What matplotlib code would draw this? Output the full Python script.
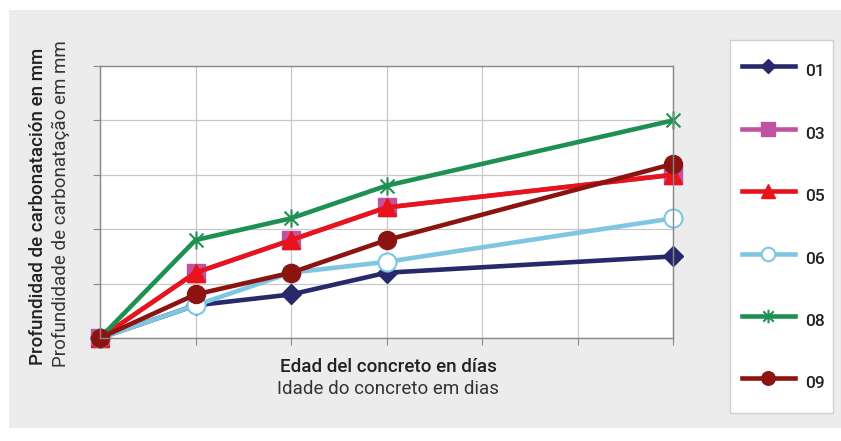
import matplotlib.pyplot as plt
from matplotlib.path import Path
from matplotlib.patches import Rectangle

# edades (posiciones en el eje x) y profundidad de carbonatación por serie
edades = [0, 1, 2, 3, 6]
s01 = [0, 0.6, 0.8, 1.2, 1.5]
s03 = [0, 1.2, 1.8, 2.4, 3.0]
s05 = [0, 1.2, 1.8, 2.4, 3.0]
s06 = [0, 0.6, 1.2, 1.4, 2.2]
s08 = [0, 1.8, 2.2, 2.8, 4.0]
s09 = [0, 0.8, 1.2, 1.8, 3.2]
nombres = ['01', '03', '05', '06', '08', '09']

# marcador tipo asterisco (x con línea vertical)
estrella = Path([(-1, -1), (1, 1), (-1, 1), (1, -1), (0, -1.3), (0, 1.3)],
                [Path.MOVETO, Path.LINETO, Path.MOVETO, Path.LINETO,
                 Path.MOVETO, Path.LINETO])

estilos = [
    dict(color='#27296b', marker='D', ms=10, mfc='#27296b', mec='#27296b'),
    dict(color='#c052a0', marker='s', ms=12.5, mfc='#c052a0', mec='#c052a0'),
    dict(color='#e8131b', marker='^', ms=12.5, mfc='#e8131b', mec='#e8131b'),
    dict(color='#7fc6e2', marker='o', ms=13, mfc='white', mec='#7fc6e2', mew=1.5),
    dict(color='#1e9152', marker=estrella, ms=13, mfc='none', mec='#1e9152', mew=1.5),
    dict(color='#8c1410', marker='o', ms=13, mfc='#8c1410', mec='#8c1410'),
]

fig = plt.figure(figsize=(8.41, 4.41), dpi=100)
fig.patch.set_facecolor('white')
# fondo gris y recuadro blanco de la leyenda
fig.patches.append(Rectangle((9 / 841, 13 / 441), 832 / 841, 418 / 441,
                             transform=fig.transFigure, facecolor='#ececec',
                             edgecolor='none', zorder=-5))
fig.patches.append(Rectangle((730 / 841, 1 - 413 / 441), 103 / 841, 373 / 441,
                             transform=fig.transFigure, facecolor='white',
                             edgecolor='#d0d0d0', lw=1.0, zorder=-4))

ax = fig.add_axes([100 / 841, 103 / 441, 573 / 841, 272 / 441])
ax.set_zorder(2)
ax.set_facecolor('white')

for serie, nombre, st in zip([s01, s03, s05, s06, s08, s09], nombres, estilos):
    ax.plot(edades, serie, lw=3.3, label=nombre, clip_on=False, **st)

ax.set_xlim(0, 6)
ax.set_ylim(0, 5)
ax.set_xticks(range(7))
ax.set_yticks(range(6))
ax.set_xticklabels([])
ax.set_yticklabels([])
ax.tick_params(length=5, width=0.8, color='#888888')
ax.grid(True, color='#c8c8c8', lw=0.9)
ax.set_axisbelow(True)
for lado in ax.spines.values():
    lado.set_color('#888888')
    lado.set_linewidth(1.0)

fuente = ['Roboto', 'DejaVu Sans']
fig.text(388 / 841, 1 - 367 / 441, 'Edad del concreto en días', ha='center',
         va='center', fontsize=13.5, family=fuente, fontweight='medium', color='#222222')
fig.text(388 / 841, 1 - 389 / 441, 'Idade do concreto em dias', ha='center',
         va='center', fontsize=13.5, family=fuente, color='#333333')
fig.text(38 / 841, 1 - 206 / 441, 'Profundidad de carbonatación en mm', ha='center',
         va='center', rotation=90, fontsize=13.5, family=fuente, fontweight='medium',
         color='#222222')
fig.text(61 / 841, 1 - 204 / 441, 'Profundidade de carbonatação em mm', ha='center',
         va='center', rotation=90, fontsize=13.5, family=fuente, color='#333333')

leg = fig.legend(loc='center left', bbox_to_anchor=(742 / 841, 1 - 227 / 441),
                 frameon=False, handlelength=3.05, handleheight=2.2,
                 labelspacing=1.92, borderpad=0, handletextpad=0.6,
                 borderaxespad=0, markerscale=0.75,
                 prop={'family': fuente, 'size': 12.5, 'weight': 'medium'})
for t in leg.get_texts():
    t.set_color('#222222')

fig.savefig('out.png', dpi=100)
